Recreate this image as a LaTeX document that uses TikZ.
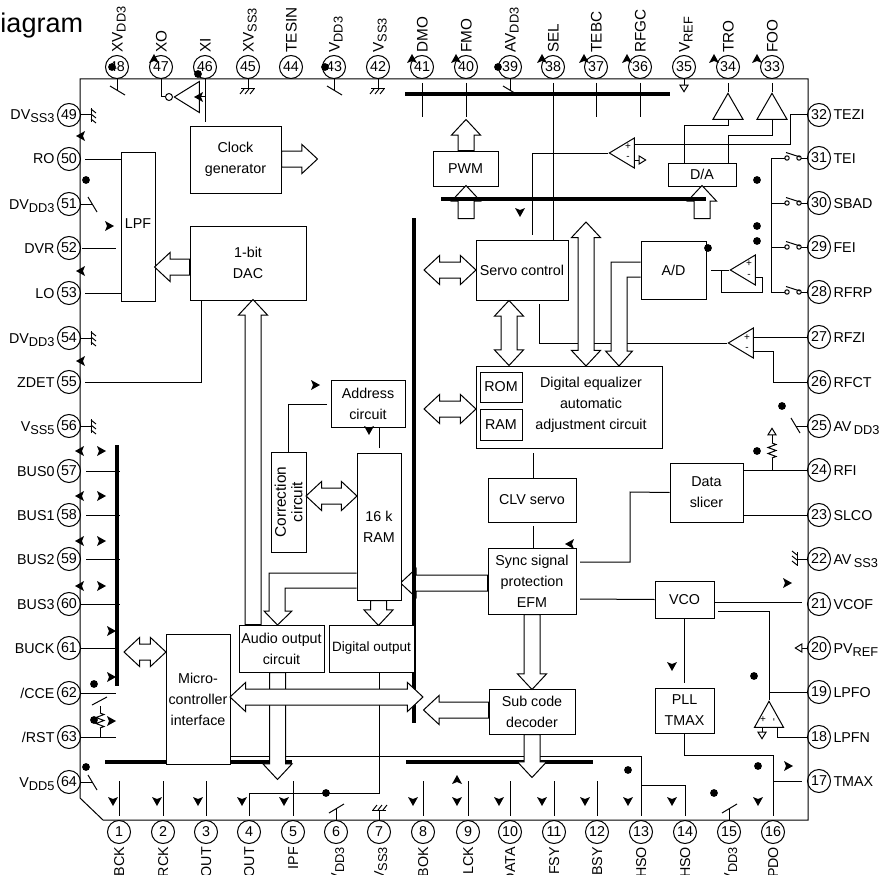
\documentclass[tikz,border=0pt]{standalone}
\usepackage{fontspec}
\setmainfont{Liberation Sans}
\usetikzlibrary{calc,positioning,shapes.geometric,shapes.arrows}

\newcommand{\lowsub}[1]{\raisebox{-3pt}{\fontsize{12.8}{13}\selectfont #1}}
\newcommand{\boxfont}{\fontsize{14.3}{21}\selectfont}

\tikzset{
    pics/vddmark/.style={code={\draw (0,0) -- (0,11); \draw (-7,7) -- (8,16);}},
    pics/gndmark/.style={code={\draw (0,0) -- (0,10); \draw (-7,10) -- (7,10);
        \foreach \t in {-4,1,6} \draw (\t,10) -- (\t-4,15);}},
    pics/tipmark/.style={code={\fill (5,0) -- (-4,-5) -- (-2,0) -- (-4,5) -- cycle;}},
    pics/switchmark/.style={code={\draw (-6,0) circle (2.2); \draw (6,0) circle (2.2); \draw (-7,-5.5) -- (7,-1);}},
    pics/resmark/.style={code={\draw (0,0) -- (4,-1.5) -- (-4,-4.5) -- (4,-7.5) -- (-4,-10.5) -- (4,-13.5) -- (0,-15);}}
}

\begin{document}
\begin{tikzpicture}[
        x=1pt, y=-1pt, line width=1pt,
        box/.style={draw, fill=white, inner sep=0pt, align=center, font=\boxfont},
        pin/.style={draw, circle, minimum size=23pt, inner sep=0pt, font=\boxfont},
        pinlabel/.style={inner sep=0pt, font=\boxfont},
        vlabel/.style={inner sep=0pt, rotate=90, font=\fontsize{15.3}{17}\selectfont},
        blabel/.style={inner sep=0pt, rotate=90, font=\boxfont},
        fat/.style={single arrow, draw, fill=white, inner sep=7.5pt, anchor=tail, minimum width=28pt, single arrow head extend=6.5pt, single arrow tip angle=86},
        fatboth/.style={double arrow, draw, fill=white, inner sep=7.5pt, minimum width=28pt, double arrow head extend=6.5pt, double arrow tip angle=86},
        fatline/.style={draw, fill=white},
        amp/.style={isosceles triangle, isosceles triangle stretches, draw, fill=white, inner sep=0pt, anchor=apex},
        ampleft/.style={amp, shape border rotate=180, minimum width=30pt, minimum height=25pt},
        ampup/.style={amp, shape border rotate=90, minimum width=30pt, minimum height=26pt},
        smalltri/.style={amp, minimum width=8pt, minimum height=6.5pt},
        sign/.style={inner sep=0pt, font=\fontsize{10}{10}\selectfont},
        bar/.style={line width=4.7pt}
    ]
    \useasboundingbox (0,0) rectangle (879,875);

    \node[anchor=base west, inner sep=0pt, font=\fontsize{27}{29}\selectfont] (title) at (0,33) {iagram};

    \draw (80,79) -- (808,79) -- (808,820) -- (103,820) -- (80,798) -- cycle;

    \foreach \n/\py/\txt in {49/115/DV\lowsub{SS3}, 50/159/RO, 51/204/DV\lowsub{DD3}, 52/248/DVR, 53/293/LO, 54/338/DV\lowsub{DD3}, 55/382/ZDET, 56/426/V\lowsub{SS5}, 57/471/BUS0, 58/515/BUS1, 59/559/BUS2, 60/604/BUS3, 61/648/BUCK}{
        \node[pin] (pin\n) at (69,\py) {\n};
        \node[pinlabel, anchor=base east] (lab\n) at (55,\py+5) {\txt};
    }
    \node[pin] (pin62) at (69,693) {62};
    \node[pin] (pin63) at (69,737) {63};
    \node[pin] (pin64) at (69,782) {64};
    \node[pinlabel, anchor=base east] (lab62) at (55,698) {/CCE};
    \node[pinlabel, anchor=base east] (lab63) at (55,742) {/RST};
    \node[pinlabel, anchor=base east] (lab64) at (55,787) {V\lowsub{DD5}};

    \foreach \n/\py/\txt in {32/115/TEZI, 31/158/TEI, 30/203/SBAD, 29/247/FEI, 28/292/RFRP, 27/337/RFZI, 26/382/RFCT, 25/426/AV\,\lowsub{DD3}, 24/470/RFI, 23/515/SLCO, 22/559/AV\,\lowsub{SS3}, 21/604/VCOF, 20/648/PV\lowsub{REF}, 19/692/LPFO, 18/737/LPFN, 17/781/TMAX}{
        \node[pin] (pin\n) at (819,\py) {\n};
        \node[pinlabel, anchor=base west] (lab\n) at (833,\py+5) {\txt};
    }

    \foreach \n/\px/\txt in {48/117/XV\lowsub{DD3}, 47/161/XO, 46/205/XI, 45/248/XV\lowsub{SS3}, 44/291/TESIN, 43/334/V\lowsub{DD3}, 42/378/V\lowsub{SS3}, 41/422/DMO, 40/466/FMO, 39/510/AV\lowsub{DD3}, 38/553/SEL, 37/596/TEBC, 36/640/RFGC, 35/684/V\lowsub{REF}, 34/728/TRO, 33/772/FOO}{
        \node[pin] (pin\n) at (\px,67) {\n};
        \node[vlabel, anchor=base west] (lab\n) at (\px+5.5,53) {\txt};
    }

    \foreach \n/\px/\txt in {1/119/BCK, 2/163/RCK, 3/206/OUT, 4/249/OUT, 5/293/IPF, 6/336/V\lowsub{DD3}, 7/379/V\lowsub{SS3}, 8/423/BOK, 9/468/LCK, 10/510/DATA, 11/554/FSY, 12/597/BSY, 13/641/HSO, 14/685/HSO, 15/729/V\lowsub{DD3}, 16/773/PDO}{
        \node[pin] (pin\n) at (\px,832) {\n};
        \node[blabel, anchor=base east] (lab\n) at (\px+5,846.5) {\txt};
    }

    \node[fat, rotate=180, minimum height=87pt] (syncram) at (488,583) {};

    \coordinate (topstub) at (0,83);
    \coordinate (topend) at (0,117);
    \coordinate (botstub) at (0,781);
    \coordinate (botend) at (0,816);
    \coordinate (swbus) at (771,0);
    \coordinate (swmid) at (793,0);
    \coordinate (leftbus) at (120,0);
    \coordinate (leftgap) at (116,0);

    \draw[bar] (117,445) -- (117,686);
    \draw[bar] (105,762) -- (292,762);
    \draw[bar] (406,762) -- (593,762);
    \draw[bar] (405,94) -- (670,94);
    \draw[bar] (414,218) -- (414,723);

    \foreach \n in {41,40,37,36} \draw (pin\n |- topstub) -- (pin\n |- topend);
    \foreach \n in {1,2,3,5,8,9,10,11,12} \draw (pin\n |- botstub) -- (pin\n |- botend);

    \foreach \n in {48,43,39} \pic at (pin\n.south) {vddmark};
    \pic[rotate=180, xscale=-1] at (pin6.north) {vddmark};
    \pic[rotate=180, xscale=-1] at (pin15.north) {vddmark};
    \pic[rotate=90, xscale=-1] at (pin51.east) {vddmark};
    \pic[rotate=90, xscale=-1] at (pin64.east) {vddmark};
    \pic[rotate=-90, xscale=-1] at (pin25.west) {vddmark};
    \foreach \n in {45,42} \pic at (pin\n.south) {gndmark};
    \pic[rotate=180] at (pin7.north) {gndmark};
    \pic[rotate=90] at (pin49.east) {gndmark};
    \pic[rotate=90] at (pin54.east) {gndmark};
    \pic[rotate=90] at (pin56.east) {gndmark};
    \pic[rotate=-90] at (pin22.west) {gndmark};

    \node[box, minimum width=91pt, minimum height=67pt] (clock) at (235.5,159.5) {Clock\\generator};
    \node[box, minimum width=34pt, minimum height=149pt] (lpf) at (138,226.5) {\raisebox{6pt}{LPF}};
    \node[box, minimum width=116pt, minimum height=74pt] (dac) at (248,263) {1-bit\\DAC};
    \node[box, minimum width=65pt, minimum height=35pt] (pwm) at (465.5,168.5) {PWM};
    \node[box, minimum width=68pt, minimum height=23pt] (da) at (702,174.5) {D/A};
    \node[box, minimum width=92pt, minimum height=60pt] (servo) at (522,270) {Servo control};
    \node[box, minimum width=65pt, minimum height=58pt] (ad) at (673.5,270) {A/D};
    \node[box, minimum width=186pt, minimum height=82pt] (eq) at (569,407) {};
    \node[box, draw=none, fill=none] (eqtext) at (591,405) {Digital equalizer\\automatic\\adjustment circuit};
    \node[box, minimum width=42pt, minimum height=30pt] (rom) at (501,387) {ROM};
    \node[box, minimum width=42pt, minimum height=31pt] (eqram) at (501,424.5) {RAM};
    \node[box, minimum width=88pt, minimum height=44pt] (clv) at (532,500) {CLV servo};
    \node[box, minimum width=88pt, minimum height=66pt] (sync) at (532,581) {Sync signal\\protection\\EFM};
    \node[box, minimum width=73pt, minimum height=59pt] (slicer) at (706.5,492.5) {Data\\slicer};
    \node[box, minimum width=59pt, minimum height=37pt] (vco) at (684.5,599.5) {VCO};
    \node[box, minimum width=59pt, minimum height=45pt] (pll) at (684.5,710.5) {PLL\\TMAX};
    \node[box, minimum width=86pt, minimum height=45pt] (subcode) at (532,711.5) {Sub code\\decoder};
    \node[box, minimum width=74pt, minimum height=47pt] (addr) at (368,403.5) {Address\\circuit};
    \node[box, rotate=90, font=\fontsize{15.4}{16.5}\selectfont, minimum width=100pt, minimum height=35pt] (correct) at (288.5,502) {Correction\\circuit};
    \node[box, minimum width=44pt, minimum height=147pt] (ram) at (379,526.5) {16 k\\RAM};
    \node[box, minimum width=85pt, minimum height=47pt] (audio) at (281.5,648.5) {Audio output\\circuit};
    \node[box, font=\fontsize{13.5}{21}\selectfont, minimum width=85pt, minimum height=47pt] (digout) at (371.5,648.5) {Digital output};
    \node[box, minimum width=64pt, minimum height=130pt] (micro) at (198,699) {Micro-\\controller\\interface};

    \node[ampup] (trobuf) at (728,92) {};
    \node[ampup] (foobuf) at (772,92) {};
    \node[ampleft] (tezamp) at (608,153) {};
    \node[ampleft] (feamp) at (729,270) {};
    \node[ampleft] (rfzamp) at (727,343) {};
    \node[ampup, minimum width=29pt] (lpfamp) at (769,700) {};
    \node[ampleft, minimum width=31pt] (xinv) at (173,97) {};
    \node[smalltri, shape border rotate=270] (vrefmark) at (684,93) {};
    \node[smalltri, shape border rotate=0] (tezbias) at (647,160) {};
    \node[smalltri, shape border rotate=270] (lpfbias) at (762,740) {};
    \node[smalltri, shape border rotate=180] (pvmark) at (794,648) {};
    \node[smalltri, shape border rotate=90] (rfimark) at (772,427) {};
    \node[draw, circle, fill=white, minimum size=7pt, inner sep=0pt, left=0pt of xinv.apex] (xbubble) {};

    \node[sign] (tezp) at (628,147) {+};
    \node[sign] (tezm) at (628,158) {-};
    \node[sign] (fep) at (749,264) {+};
    \node[sign] (fem) at (749,276) {-};
    \node[sign] (rfzp) at (747,338) {+};
    \node[sign] (rfzm) at (747,349) {-};
    \node[sign] (lpfp) at (763,720) {+};
    \node[sign, rotate=90] (lpfm) at (775,720) {-};

    \draw (pin47.south) |- (xbubble.west);
    \coordinate (xiend) at (205,122);
    \draw (pin46.south) -- (xiend);
    \draw (xinv.lower side) -- (xinv.lower side -| xiend);

    \draw (pin35.south) -- (vrefmark.lower side);
    \draw (pin38 |- topstub) -- (pin38 |- servo.north);
    \draw (pin34 |- topstub) -- (trobuf.apex);
    \draw (pin33 |- topstub) -- (foobuf.apex);
    \coordinate (trojog) at (684,125);
    \coordinate (foojog) at (728,135);
    \draw (trobuf.lower side) |- (trojog) -- (trojog |- da.north);
    \draw (foobuf.lower side) |- (foojog) -- (foojog |- da.north);

    \coordinate (tezrun) at (790,144);
    \draw (pin32.west) -| (tezrun) -- ($(tezamp.lower side)+(0,-9)$);
    \draw ($(tezamp.lower side)+(0,7)$) -- (tezbias.lower side);
    \coordinate (tezout) at (532,235);
    \draw (tezamp.apex) -| (tezout);

    \draw (pin31.west -| swbus) -- (pin28.west -| swbus);
    \foreach \n in {31,30,29,28}{
        \pic at (pin\n.west -| swmid) {switchmark};
        \draw (pin\n.west -| swbus) -- ++(14,0);
        \draw (pin\n.west) -- ++(-6.3,0);
    }
    \draw ($(feamp.lower side)+(0,-7)$) -- ($(feamp.lower side)+(0,-7)$ -| swbus);
    \coordinate (fefb) at (762,277);
    \coordinate (feloop) at (721,292);
    \draw ($(feamp.lower side)+(0,7)$) -- (fefb) -- (fefb |- feloop) -- (feloop) -- (feloop |- feamp.apex);
    \coordinate (adout) at (711,270);
    \draw (adout) -- (feamp.apex);

    \draw (pin27.west) -- (rfzamp.lower side |- pin27);
    \coordinate (rfzminus) at (773,351);
    \draw (pin26.west) -| (rfzminus) -- ($(rfzamp.lower side)+(0,8)$);
    \coordinate (rfzend) at (539,304);
    \draw (rfzamp.apex) -| (rfzend);

    \draw (pin24.west) -- (slicer.east |- pin24);
    \draw (pin23.west) -- (slicer.east |- pin23);
    \coordinate (rfijoin) at (772,470);
    \draw (rfijoin) -- (772,458);
    \pic at (772,458) {resmark};
    \draw (772,443) -- (rfimark.lower side);
    \coordinate (slicejog) at (630,492);
    \coordinate (syncend) at (580,562);
    \draw (slicer.west) -- (slicejog) |- (syncend);

    \coordinate (clvtop) at (533,453);
    \coordinate (clvlow) at (533,526);
    \draw (clvtop) -- (clvtop |- clv.north);
    \draw (clvlow) -- (clvlow |- sync.north);

    \coordinate (vcoin) at (580,599);
    \draw (vcoin) -- (vco.west);
    \coordinate (vcoflow) at (0,602);
    \draw (vco.east |- vcoflow) -- ([xshift=-5pt]pin21.west |- vcoflow);
    \coordinate (vcofb) at (718,611);
    \draw (vcofb) -| (lpfamp.apex);
    \draw (lpfamp.apex |- pin19) -- (pin19.west);
    \coordinate (pllend) at (685,683);
    \draw (vco.south) -- (vco.south |- pllend);
    \draw ($(lpfamp.lower side)+(-7,0)$) -- (lpfbias.lower side);
    \draw ($(lpfamp.lower side)+(8,0)$) |- (pin18.west);
    \draw (pin20.west) -- (pvmark.lower side);

    \coordinate (pllrow) at (0,755);
    \draw (pll.south) |- (pin16 |- pllrow) -- (pin16 |- botend);
    \draw (pin16 |- pin17) -- ([xshift=-5pt]pin17.west);
    \coordinate (micline) at (641,756);
    \draw (micro.east |- micline) -- (micline) -- (pin13 |- botend);
    \coordinate (hsorow) at (0,785);
    \draw (pin13 |- hsorow) -| (pin14 |- botend);
    \coordinate (digjoin) at (379,793);
    \draw (pin4 |- botend) |- (digjoin) -- (digjoin |- digout.south);

    \draw ([xshift=4pt]pin50.east) -- (pin50.east -| lpf.west);
    \draw ([xshift=1pt]pin52.east) -- (pin52.east -| leftgap);
    \draw ([xshift=4pt]pin53.east) -- (pin53.east -| lpf.west);
    \coordinate (zdetjog) at (201,382);
    \draw ([xshift=4pt]pin55.east) -- (zdetjog) -- (zdetjog |- dac.south);
    \foreach \n in {57,58,59}
        \draw ([xshift=5pt]pin\n.east) -- (pin\n.east -| leftbus);
    \draw (pin60.east) -- (pin60.east -| leftbus);
    \draw (pin61.east) -- (pin61.east -| leftgap);
    \draw (pin62.east) -- (pin62.east -| leftgap);
    \draw (pin63.east) -- (pin63.east -| leftgap);
    \coordinate (rstjoin) at (100,737);
    \draw (rstjoin) -- (100,728);
    \pic at (100,728) {resmark};
    \draw (100,713) -- (100,706);
    \coordinate (rstsl) at (92,705);
    \coordinate (rstsr) at (107,697);
    \draw (rstsl) -- (rstsr);

    \coordinate (addrjog) at (327,404);
    \draw (addrjog) -| (correct.east);
    \coordinate (addrlow) at (379,448);
    \draw (addrlow) -- (addrlow |- addr.south);

    \draw[fatline] (ad.west |- 0,262) -- (611,262) -- (611,351) -- (605.5,351) -- (619,366) -- (632.5,351) -- (627,351) -- (627,277) -- (ad.west |- 0,277);
    \draw[fatline] (ram.west |- 0,573) -- (269,573) -- (269,611) -- (264,611) -- (277.5,625) -- (292,611) -- (285,611) -- (285,588) -- (ram.west |- 0,588);

    \node[fat, minimum height=36pt] (clockout) at (281,159) {};
    \node[fat, rotate=180, minimum height=35pt] (dacout) at (190,267) {};
    \node[fat, rotate=90, minimum height=31pt] (pwmout) at (466,151) {};
    \node[fat, rotate=90, minimum height=33pt] (pwmin) at (466,219) {};
    \node[fat, rotate=90, minimum height=33pt] (dain) at (702,219) {};
    \node[fat, rotate=90, minimum height=325pt] (dacin) at (253,625) {};
    \node[fat, rotate=270, minimum height=25pt] (ramout) at (378.5,600) {};
    \node[fat, rotate=270, minimum height=75pt] (syncsub) at (532,614) {};
    \node[fat, rotate=270, minimum height=43pt] (subout) at (532,734) {};
    \node[fat, rotate=270, minimum height=107pt] (audioout) at (277.5,672) {};
    \node[fat, rotate=180, minimum height=65pt] (subleft) at (489,710) {};
    \node[fatboth, minimum height=52pt] (servobus) at (450,270) {};
    \node[fatboth, rotate=90, minimum height=65pt] (servoeq) at (509,333) {};
    \node[fatboth, rotate=90, minimum height=144pt] (servolong) at (586,294) {};
    \node[fatboth, minimum height=52pt] (eqbus) at (450,409) {};
    \node[fatboth, minimum height=51pt] (corram) at (331.5,496) {};
    \node[fatboth, minimum height=42pt] (busmicro) at (145,652) {};
    \node[fatboth, minimum height=193pt] (micbus) at (326.5,697) {};

    \draw[bar] (441,199) -- (706,199);

    \foreach \dx/\dy in {112/67, 325/67, 498/67, 198/74, 86/180, 757/180, 757/226, 757/241, 708/248, 782/406, 757/451, 94/684, 94/720, 86/767, 326/793, 628/770, 754/676, 758/766, 714/793}
        \fill (\dx,\dy) circle (3.9);

    \foreach \mx/\my in {154/59, 412/59, 456/59, 542/59, 584/59, 627/59, 714/59, 757/59, 457/780}
        \pic[rotate=90] at (\mx,\my) {tipmark};
    \foreach \mx/\my in {81/136, 81/271, 81/361, 80/451, 80/496, 80/541, 80/586, 570/544, 199/97}
        \pic[rotate=180] at (\mx,\my) {tipmark};
    \foreach \mx/\my in {109/226, 101/451, 101/496, 101/541, 101/586, 111/631, 111/677, 111/721, 315/385, 787/583, 788/766}
        \pic at (\mx,\my) {tipmark};
    \foreach \mx/\my in {369/430, 520/212, 672/666, 113/801, 157/801, 198/801, 242/801, 284/801, 413/801, 457/801, 499/801, 542/801, 585/801, 628/801, 672/801, 758/801}
        \pic[rotate=270] at (\mx,\my) {tipmark};
\end{tikzpicture}
\end{document}
